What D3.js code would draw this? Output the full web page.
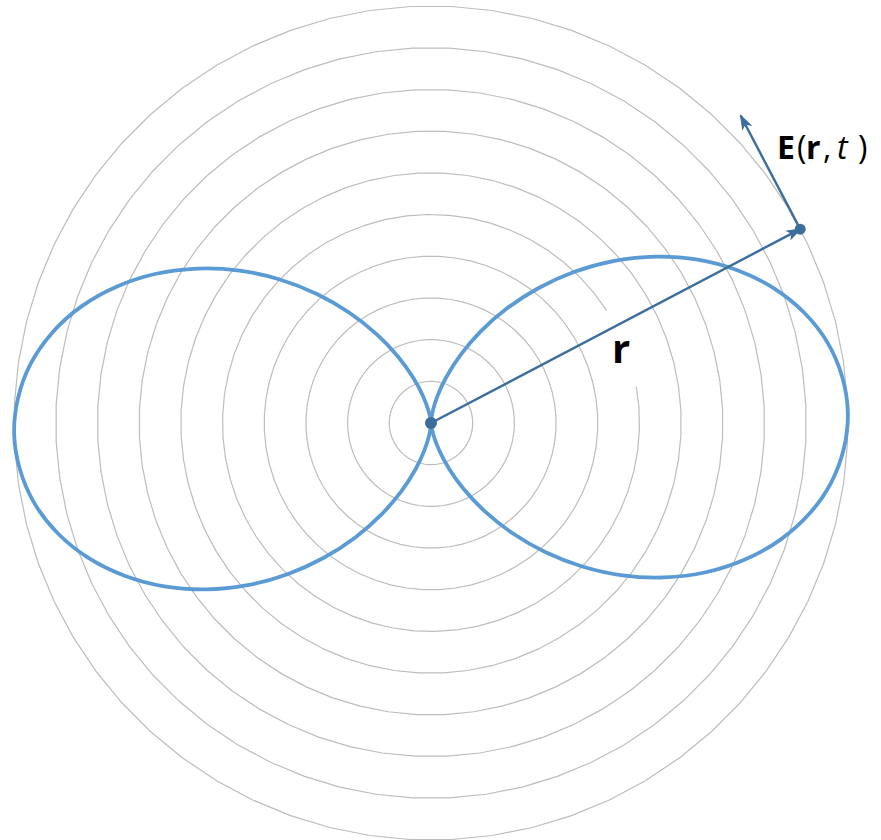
<!DOCTYPE html>
<html>
<head>
<meta charset="utf-8">
<script src="https://cdn.jsdelivr.net/npm/d3@7"></script>
<style>
  html, body { margin: 0; padding: 0; background: #ffffff; }
  svg { display: block; }
</style>
</head>
<body>
<svg id="chart" width="881" height="840"></svg>
<script>
// ---- data ----
// wavefront rings (radius in ring units)
const ringRadii = [1, 2, 3, 4, 5, 6, 7, 8, 9, 10];
// ring with a gap (around the "r" label), gap given as elevation angles in degrees
const gapRing = 5;
const gapElevation = [10, 32.7];
// radiation lobe: angle from horizontal (deg) and radius (ring units)
const lobeAngles = [0, 5, 10, 15, 20, 25, 30, 35, 40, 45, 50, 55, 60, 65, 70, 75, 80, 85, 90];
const lobeRadius = [10, 9.92, 9.70, 9.33, 8.83, 8.21, 7.50, 6.71, 5.87, 5.00, 4.13, 3.29, 2.50, 1.79, 1.17, 0.67, 0.30, 0.08, 0];
// observation point (elevation deg, radius in ring units) and field vector length
const pointElevation = 27.7;
const pointRadius = 10;
const fieldLength = 3.07;
const labels = { r: "r" };

// ---- layout ----
const cx = 431, cy = 423;
const rScale = d3.scaleLinear().domain([0, 10]).range([0, 417]);
const deg = Math.PI / 180;

const svg = d3.select("#chart");
const g = svg.append("g").attr("transform", `translate(${cx},${cy})`);

const defs = svg.append("defs");
defs.append("marker")
  .attr("id", "head")
  .attr("viewBox", "0 -6 16 12")
  .attr("refX", 14).attr("refY", 0)
  .attr("markerWidth", 16).attr("markerHeight", 12)
  .attr("markerUnits", "userSpaceOnUse")
  .attr("orient", "auto")
  .append("path")
  .attr("d", "M0,-5.5 L16,0 L0,5.5 L4,0 Z")
  .attr("fill", "#3b6e9c");

// rings as polygons
const nSides = 64;
const ringLine = d3.lineRadial()
  .angle(d => d[0])
  .radius(d => d[1])
  .curve(d3.curveLinearClosed);
const arcLine = d3.lineRadial()
  .angle(d => d[0])
  .radius(d => d[1])
  .curve(d3.curveLinear);

ringRadii.forEach(k => {
  const rr = rScale(k);
  if (k === gapRing) {
    const a0 = (90 - gapElevation[0]) * deg;
    const a1 = (90 - gapElevation[1]) * deg + 2 * Math.PI;
    const pts = [];
    const n = 58;
    for (let i = 0; i <= n; i++) pts.push([a0 + (a1 - a0) * i / n, rr]);
    g.append("path").attr("d", arcLine(pts))
      .attr("fill", "none").attr("stroke", "#bdbdbd").attr("stroke-width", 1.2);
  } else {
    const pts = d3.range(nSides).map(i => [(i + 0.5) * 2 * Math.PI / nSides, rr]);
    g.append("path").attr("d", ringLine(pts))
      .attr("fill", "none").attr("stroke", "#bdbdbd").attr("stroke-width", 1.2);
  }
});

// lobes
const lobeG = g.append("g").attr("transform", "rotate(-1.5)");
const lobeLine = d3.line()
  .x(d => d[0]).y(d => d[1])
  .curve(d3.curveCatmullRom.alpha(0.5));
function lobePoints(side) {
  const pts = [];
  for (let i = lobeAngles.length - 1; i >= 0; i--) pts.push([lobeAngles[i], lobeRadius[i]]);
  for (let i = 1; i < lobeAngles.length; i++) pts.push([-lobeAngles[i], lobeRadius[i]]);
  return pts.map(([a, rv]) => {
    const r = rScale(rv);
    return [side * r * Math.cos(a * deg), -r * Math.sin(a * deg)];
  });
}
[1, -1].forEach(side => {
  lobeG.append("path").attr("d", lobeLine(lobePoints(side)))
    .attr("fill", "none").attr("stroke", "#5b9bd5").attr("stroke-width", 3.8)
    .attr("stroke-linejoin", "round");
});

// r vector
const pr = rScale(pointRadius);
const px = pr * Math.cos(pointElevation * deg);
const py = -pr * Math.sin(pointElevation * deg);
g.append("line")
  .attr("x1", 0).attr("y1", 0).attr("x2", px).attr("y2", py)
  .attr("stroke", "#3b6e9c").attr("stroke-width", 2.4)
  .attr("marker-end", "url(#head)");

// E vector (perpendicular, towards up-left)
const fl = rScale(fieldLength);
const ex = px - fl * Math.sin(pointElevation * deg);
const ey = py - fl * Math.cos(pointElevation * deg);
g.append("line")
  .attr("x1", px).attr("y1", py).attr("x2", ex).attr("y2", ey)
  .attr("stroke", "#3b6e9c").attr("stroke-width", 2.4)
  .attr("marker-end", "url(#head)");

// dots
g.append("circle").attr("cx", 0).attr("cy", 0).attr("r", 6).attr("fill", "#3b6e9c");
g.append("circle").attr("cx", px).attr("cy", py).attr("r", 5.5).attr("fill", "#3b6e9c");

// labels
const font = "'Open Sans', 'Noto Sans', sans-serif";
svg.append("text")
  .attr("x", 621).attr("y", 363)
  .attr("text-anchor", "middle")
  .attr("font-family", font).attr("font-weight", "bold").attr("font-size", 40)
  .attr("fill", "#000").text(labels.r);

const et = svg.append("text")
  .attr("y", 159)
  .attr("font-family", font).attr("font-size", 32).attr("fill", "#000");
et.append("tspan").attr("x", 777).attr("font-weight", "bold").text("E");
et.append("tspan").attr("x", 797).text("(");
et.append("tspan").attr("x", 806).attr("font-weight", "bold").text("r");
et.append("tspan").attr("x", 823).text(",");
et.append("tspan").attr("x", 837).attr("font-style", "italic").text("t");
et.append("tspan").attr("x", 858).text(")");
</script>
</body>
</html>
